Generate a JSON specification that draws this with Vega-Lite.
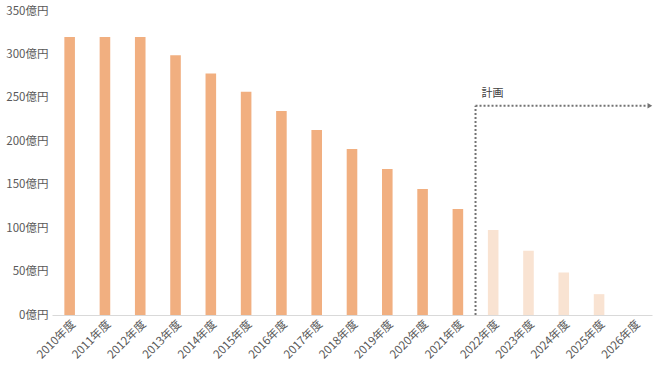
{
  "$schema": "https://vega.github.io/schema/vega-lite/v6.json",
  "width": 600,
  "height": 304,
  "autosize": "none",
  "padding": {"left": 52, "top": 11, "right": 8, "bottom": 56},
  "background": "white",
  "config": {
    "view": {"stroke": null},
    "font": "Noto Sans CJK JP",
    "axis": {"labelFont": "Noto Sans CJK JP", "labelColor": "#595959", "labelFontSize": 11.5}
  },
  "datasets": {
    "bars": [
      {"year": "2010年度", "value": 320, "kind": "実績"},
      {"year": "2011年度", "value": 320, "kind": "実績"},
      {"year": "2012年度", "value": 320, "kind": "実績"},
      {"year": "2013年度", "value": 299, "kind": "実績"},
      {"year": "2014年度", "value": 278, "kind": "実績"},
      {"year": "2015年度", "value": 257, "kind": "実績"},
      {"year": "2016年度", "value": 235, "kind": "実績"},
      {"year": "2017年度", "value": 213, "kind": "実績"},
      {"year": "2018年度", "value": 191, "kind": "実績"},
      {"year": "2019年度", "value": 168, "kind": "実績"},
      {"year": "2020年度", "value": 145, "kind": "実績"},
      {"year": "2021年度", "value": 122, "kind": "実績"},
      {"year": "2022年度", "value": 98, "kind": "計画"},
      {"year": "2023年度", "value": 74, "kind": "計画"},
      {"year": "2024年度", "value": 49, "kind": "計画"},
      {"year": "2025年度", "value": 24, "kind": "計画"},
      {"year": "2026年度", "value": 0, "kind": "計画"}
    ],
    "plan": [
      {"from": "2021年度", "to": "2026年度", "base": 0, "level": 241, "label": "計画", "labelLevel": 255}
    ]
  },
  "layer": [
    {
      "data": {"name": "bars"},
      "mark": {"type": "bar", "width": {"band": 0.3}},
      "encoding": {
        "x": {
          "field": "year", "type": "nominal", "sort": null,
          "scale": {"paddingInner": 0, "paddingOuter": 0},
          "axis": {"title": null, "labelAngle": -45, "ticks": false, "domainColor": "#d9d9d9", "domainWidth": 1, "labelPadding": 3}
        },
        "y": {
          "field": "value", "type": "quantitative",
          "scale": {"domain": [0, 350]},
          "axis": {"title": null, "values": [0, 50, 100, 150, 200, 250, 300, 350], "labelExpr": "datum.value + '億円'", "grid": false, "domain": false, "ticks": false, "labelPadding": 4}
        },
        "color": {
          "field": "kind", "type": "nominal",
          "scale": {"domain": ["実績", "計画"], "range": ["#F1AF80", "#F9E3D2"]},
          "legend": null
        }
      }
    },
    {
      "data": {"name": "plan"},
      "mark": {"type": "rule", "color": "#737373", "strokeWidth": 2, "strokeDash": [2, 2]},
      "encoding": {
        "x": {"field": "from", "type": "nominal", "bandPosition": 1},
        "y": {"field": "base", "type": "quantitative"},
        "y2": {"field": "level"}
      }
    },
    {
      "data": {"name": "plan"},
      "mark": {"type": "rule", "color": "#737373", "strokeWidth": 2, "strokeDash": [2, 2], "x2Offset": 13},
      "encoding": {
        "x": {"field": "from", "type": "nominal", "bandPosition": 1},
        "x2": {"field": "to"},
        "y": {"field": "level", "type": "quantitative"}
      }
    },
    {
      "data": {"name": "plan"},
      "mark": {"type": "point", "shape": "triangle-right", "filled": true, "color": "#737373", "size": 30, "opacity": 1},
      "encoding": {
        "x": {"field": "to", "type": "nominal", "bandPosition": 0.94},
        "y": {"field": "level", "type": "quantitative"}
      }
    },
    {
      "data": {"name": "plan"},
      "mark": {"type": "text", "align": "left", "baseline": "middle", "dx": 6, "fontSize": 11, "color": "#404040"},
      "encoding": {
        "x": {"field": "from", "type": "nominal", "bandPosition": 1},
        "y": {"field": "labelLevel", "type": "quantitative"},
        "text": {"field": "label"}
      }
    }
  ]
}
